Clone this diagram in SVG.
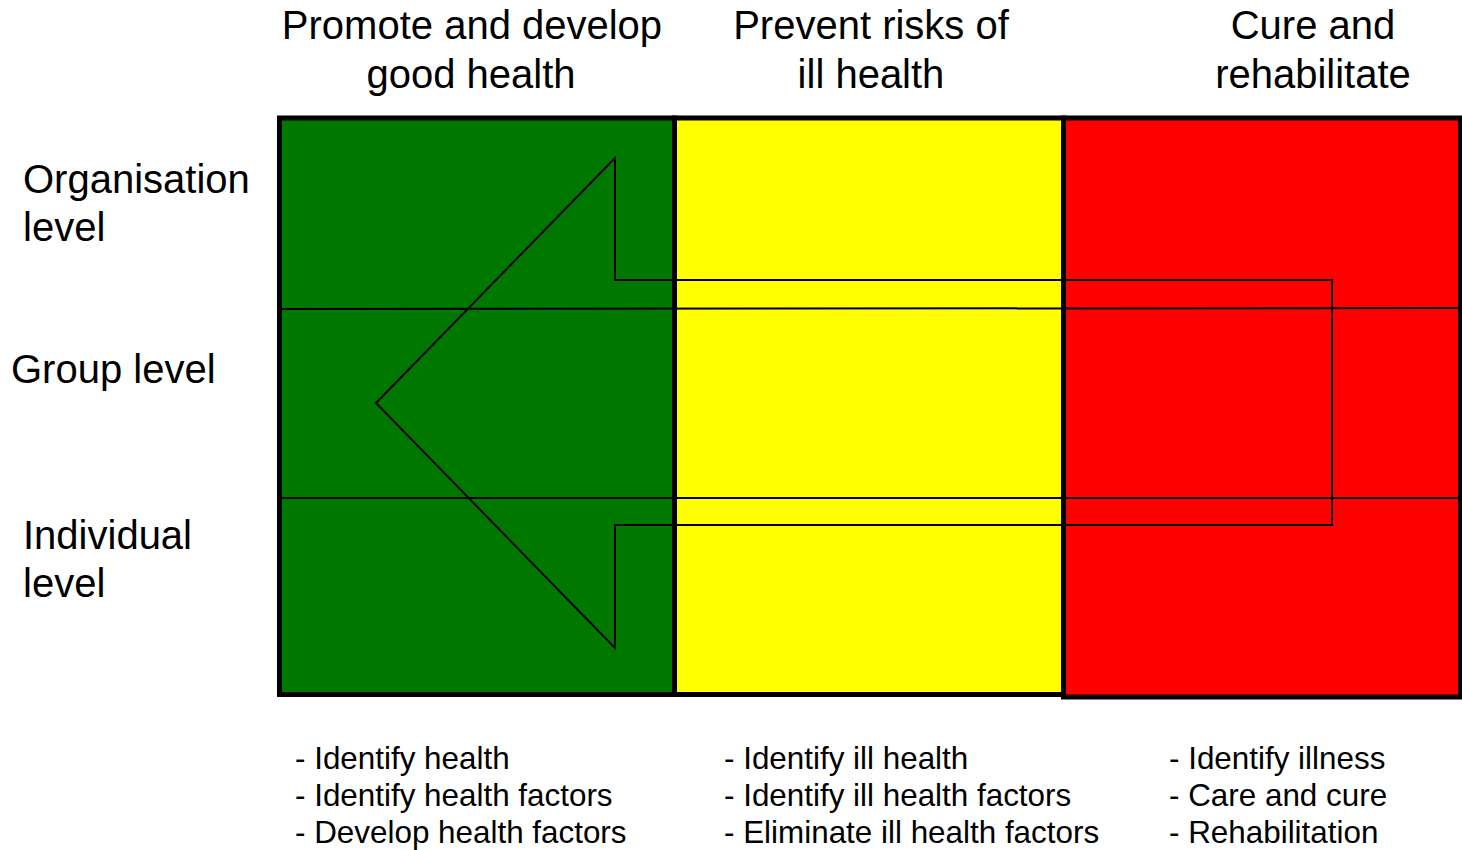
<svg xmlns="http://www.w3.org/2000/svg" width="1462" height="850" viewBox="0 0 1462 850">
<style>
text{font-family:"Liberation Sans",Arial,sans-serif;fill:#000}
.h{font-size:40px;text-anchor:middle}
.r{font-size:40px}
.b{font-size:31.4px}
.cell{stroke:#000;stroke-width:5}
.thin{stroke:#000;stroke-width:2;fill:none}
</style>
<rect width="1462" height="850" fill="#fff"/>
<g id="col-green"><rect class="cell" x="279.5" y="118" width="395" height="576.5" fill="#007800"/></g>
<g id="col-yellow"><rect class="cell" x="674.5" y="118" width="389.5" height="576.5" fill="#ffff00"/></g>
<g id="col-red"><rect class="cell" x="1063.5" y="118" width="397" height="579" fill="#ff0000"/></g>
<g id="connectors">
<line class="thin" x1="281" y1="309" x2="1460" y2="308"/>
<line class="thin" x1="281" y1="498" x2="1460" y2="498"/>
<polygon class="thin" points="376,403 615,158 615,280 1332,280 1332,525 615,525 615,648"/>
</g>
<g id="headers">
<text class="h" x="472" y="39">Promote and develop</text>
<text class="h" x="471" y="88">good health</text>
<text class="h" x="871" y="39">Prevent risks of</text>
<text class="h" x="871" y="88">ill health</text>
<text class="h" x="1313" y="39">Cure and</text>
<text class="h" x="1313" y="88">rehabilitate</text>
</g>
<g id="rows">
<text class="r" x="23" y="193">Organisation</text>
<text class="r" x="23" y="241">level</text>
<text class="r" x="11" y="383">Group level</text>
<text class="r" x="23" y="549">Individual</text>
<text class="r" x="23" y="597">level</text>
</g>
<g id="lists">
<text class="b" x="295" y="769">- Identify health</text>
<text class="b" x="295" y="806">- Identify health factors</text>
<text class="b" x="295" y="843">- Develop health factors</text>
<text class="b" x="724" y="769">- Identify ill health</text>
<text class="b" x="724" y="806">- Identify ill health factors</text>
<text class="b" x="724" y="843">- Eliminate ill health factors</text>
<text class="b" x="1169" y="769">- Identify illness</text>
<text class="b" x="1169" y="806">- Care and cure</text>
<text class="b" x="1169" y="843">- Rehabilitation</text>
</g>
</svg>
